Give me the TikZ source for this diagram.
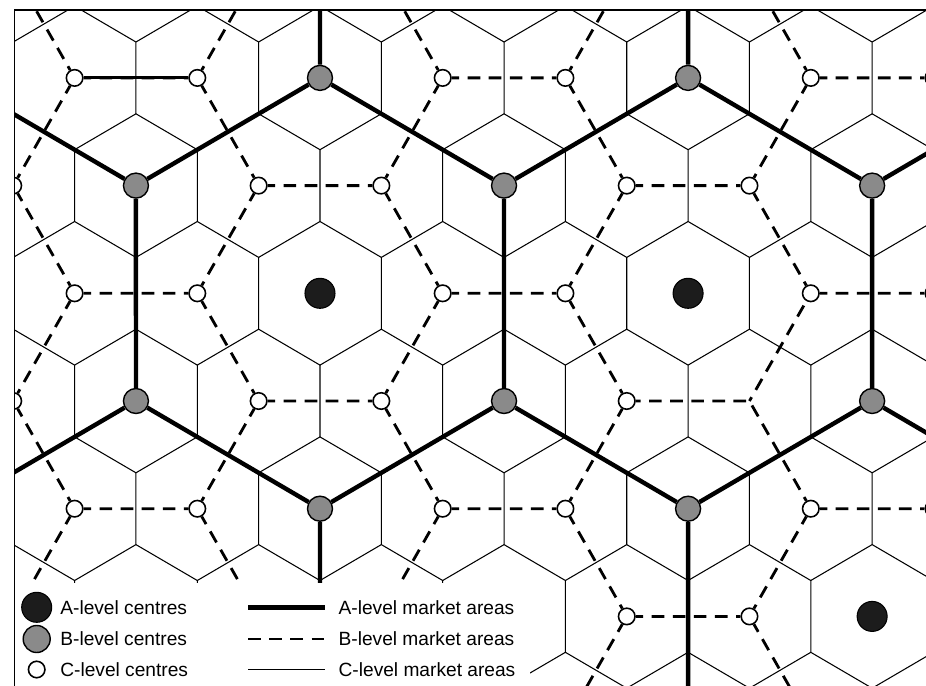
\documentclass[tikz,border=0pt]{standalone}
\usepackage{fontspec}
\setmainfont{Liberation Sans}
\definecolor{Adark}{HTML}{1C1C1C}
\definecolor{Bgrey}{HTML}{8A8A8A}

\begin{document}
\begin{tikzpicture}[x={(2.454cm,0cm)},y={(1.227cm,-2.154cm)},
  cline/.style={line width=0.6pt},
  bline/.style={line width=1.6pt,dash pattern=on 7.2pt off 4.8pt,dash phase=4.7pt},
  aline/.style={line width=2.5pt},
  acentre/.style={circle,draw,line width=0.6pt,fill=Adark,minimum size=0.6cm,inner sep=0pt},
  bcentre/.style={circle,draw,line width=0.8pt,fill=Bgrey,minimum size=0.5cm,inner sep=0pt},
  ccentre/.style={circle,draw,line width=0.9pt,fill=white,minimum size=0.33cm,inner sep=0pt},
  keytext/.style={anchor=west,inner sep=0pt,font=\fontsize{10.9}{13}\selectfont}]
  \useasboundingbox (-6.4cm,-7.834cm) rectangle (12.12cm,5.866cm);
  \begin{scope}
    \clip (-6.11cm,-7.9cm) rectangle (12.2cm,5.666cm);
    % C-level market areas
    \foreach \a in {-5,...,7} \foreach \b in {-3,...,4}
      \draw[cline,shift={(\a,\b)}] (1/3,1/3) -- (2/3,-1/3) -- (1/3,-2/3) -- (-1/3,-1/3);
    % centres
    \foreach \a in {-7,...,8} \foreach \b in {-5,...,5} {
      \pgfmathtruncatemacro\kb{mod(\a-\b+30,3)}
      \pgfmathtruncatemacro\ka{mod(\a+30,3)+mod(\b+30,3)}
      \pgfmathtruncatemacro\gap{(\a==3)*(\b==1)}
      \ifnum\kb=0
        \ifnum\ka=0 \node[acentre] (n\a_\b) at (\a,\b) {};
        \else \node[bcentre] (n\a_\b) at (\a,\b) {}; \fi
      \else
        \ifnum\gap=1 \coordinate (n\a_\b) at (\a,\b);
        \else \node[ccentre] (n\a_\b) at (\a,\b) {}; \fi
      \fi
    }
    % B-level market areas
    \foreach \a in {-6,...,7} \foreach \b in {-4,...,4} {
      \pgfmathtruncatemacro\kb{mod(\a-\b+30,3)}
      \ifnum\kb=0
        \pgfmathtruncatemacro\aR{\a+1}
        \pgfmathtruncatemacro\bD{\b+1}
        \pgfmathtruncatemacro\bU{\b-1}
        \draw[bline] (n\a_\bD) -- (n\aR_\b) -- (n\aR_\bU) -- (n\a_\bU);
      \fi
    }
    \draw[bline,solid] (n-1_-2) -- (n0_-2);
    % A-level market areas
    \foreach \i in {-2,...,2} \foreach \j in {-1,0,1} {
      \pgfmathtruncatemacro\aL{3*\i-1}
      \pgfmathtruncatemacro\aR{3*\i+1}
      \pgfmathtruncatemacro\aRR{3*\i+2}
      \pgfmathtruncatemacro\bU{3*\j-1}
      \pgfmathtruncatemacro\bUU{3*\j-2}
      \pgfmathtruncatemacro\bD{3*\j+1}
      \draw[aline] (n\aL_\bU) -- (n\aR_\bUU) -- (n\aRR_\bU) -- (n\aR_\bD);
    }
  \end{scope}
  % key
  \fill[white] (-6.11cm,-5.794cm) rectangle (4.2cm,-7.9cm);
  \draw[line width=1.1pt] (-6.11cm,-7.9cm) -- (-6.11cm,5.666cm) -- (12.2cm,5.666cm);
  \node[acentre] (keyA) at (-5.666cm,-6.28cm) {};
  \node[bcentre,minimum size=0.54cm] (keyB) at (-5.666cm,-6.914cm) {};
  \node[ccentre] (keyC) at (-5.666cm,-7.524cm) {};
  \node[keytext] (keyAtext) at (-5.2cm,-6.294cm) {A-level centres};
  \node[keytext] (keyBtext) at (-5.2cm,-6.914cm) {B-level centres};
  \node[keytext] (keyCtext) at (-5.2cm,-7.524cm) {C-level centres};
  \coordinate (lineA1) at (-1.434cm,-6.28cm);
  \coordinate (lineA2) at (0.1cm,-6.28cm);
  \coordinate (lineB1) at (-1.434cm,-6.914cm);
  \coordinate (lineB2) at (0.1cm,-6.914cm);
  \coordinate (lineC1) at (-1.434cm,-7.524cm);
  \coordinate (lineC2) at (0.1cm,-7.524cm);
  \draw[aline,line width=3pt] (lineA1) -- (lineA2);
  \draw[bline,dash phase=0pt] (lineB1) -- (lineB2);
  \draw[cline] (lineC1) -- (lineC2);
  \node[keytext] (lineAtext) at (0.366cm,-6.294cm) {A-level market areas};
  \node[keytext] (lineBtext) at (0.366cm,-6.914cm) {B-level market areas};
  \node[keytext] (lineCtext) at (0.366cm,-7.524cm) {C-level market areas};
\end{tikzpicture}
\end{document}
